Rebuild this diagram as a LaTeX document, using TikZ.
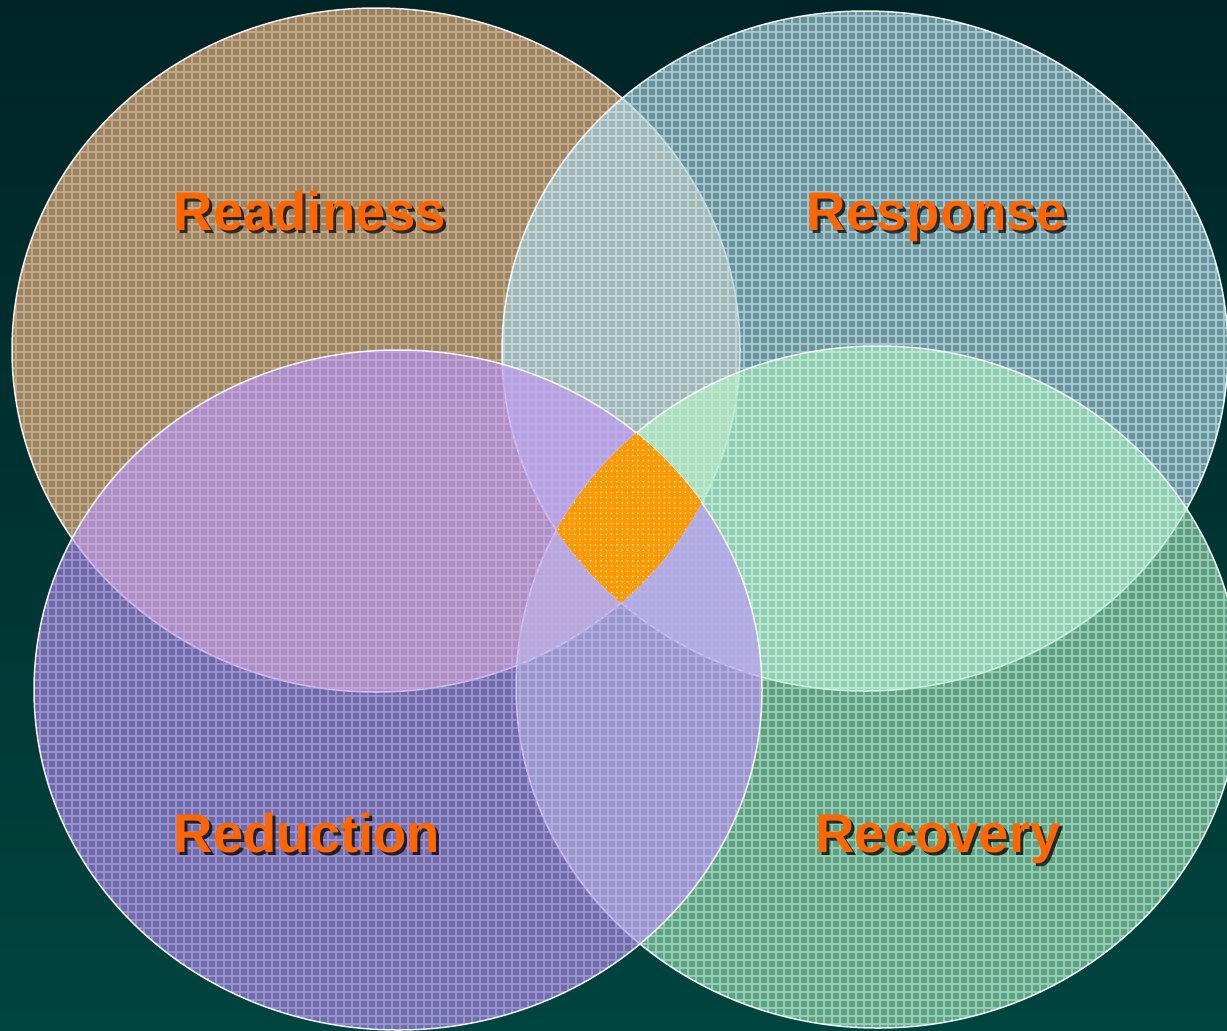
\documentclass[tikz,border=0pt]{standalone}
\usepackage{fontspec}
\setsansfont{Liberation Sans}
\usetikzlibrary{patterns}

\definecolor{bgtop}{HTML}{002426}
\definecolor{bgbot}{HTML}{00443F}
\definecolor{readyfill}{HTML}{C4A482}
\definecolor{readyline}{HTML}{F4BC84}
\definecolor{respfill}{HTML}{B3D6E0}
\definecolor{respline}{HTML}{B8E0EC}
\definecolor{recofill}{HTML}{C2FFD1}
\definecolor{recoline}{HTML}{B0F0C8}
\definecolor{redufill}{HTML}{BC98FF}
\definecolor{reduline}{HTML}{C8A0F0}
\definecolor{lblorange}{HTML}{FF6600}
\definecolor{coreorange}{HTML}{FF9900}

\providecommand{\pReady}{(376,350) ellipse [x radius=364, y radius=342]}
\providecommand{\pResp}{(865,351) ellipse [x radius=363, y radius=340]}
\providecommand{\pReco}{(878,687) ellipse [x radius=362, y radius=341]}
\providecommand{\pRedu}{(398,690) ellipse [x radius=364, y radius=340]}

\tikzset{
  ring/.style={draw=white, draw opacity=0.9, line width=0.3mm},
  gridlines/.style={line width=0.25mm, step=1.6mm},
  lbl/.style={font=\sffamily\bfseries\fontsize{31}{36}\selectfont, text=lblorange, anchor=base, inner sep=0pt},
  lblshadow/.style={lbl, text=black, text opacity=0.75}
}

\begin{document}
\begin{tikzpicture}[x=0.2mm, y=-0.2mm]
    \useasboundingbox (0,0) rectangle (1227,1030);
    \shade[top color=bgtop, bottom color=bgbot] (0,0) rectangle (1227,1030);
    \clip (0,0) rectangle (1227,1030);
    % readiness
    \fill[readyfill, fill opacity=0.75] \pReady;
    \begin{scope}
        \clip \pReady;
        \draw[gridlines, readyline, opacity=0.6] (0,0) grid (1227,1030);
    \end{scope}
    \draw[ring] \pReady;
    % response
    \fill[respfill, fill opacity=0.6] \pResp;
    \begin{scope}
        \clip \pResp;
        \draw[gridlines, respline, opacity=0.7] (0,0) grid (1227,1030);
    \end{scope}
    \draw[ring] \pResp;
    % recovery
    \fill[recofill, fill opacity=0.5] \pReco;
    \begin{scope}
        \clip \pReco;
        \draw[gridlines, recoline, opacity=0.6] (0,0) grid (1227,1030);
    \end{scope}
    \draw[ring] \pReco;
    % reduction
    \fill[redufill, fill opacity=0.55] \pRedu;
    \begin{scope}
        \clip \pRedu;
        \draw[gridlines, reduline, opacity=0.6] (0,0) grid (1227,1030);
    \end{scope}
    \draw[ring] \pRedu;
    % core where all four meet
    \begin{scope}
        \clip \pReady;
        \clip \pResp;
        \clip \pReco;
        \clip \pRedu;
        \fill[coreorange] (0,0) rectangle (1227,1030);
        \fill[pattern=dots, pattern color=white!90!coreorange] (0,0) rectangle (1227,1030);
    \end{scope}
    % labels
    \node[lblshadow] (sReady) at (313,233) {Readiness};
    \node[lbl] (tReady) at (310,230) {Readiness};
    \node[lblshadow] (sResp) at (940,233) {Response};
    \node[lbl] (tResp) at (937,230) {Response};
    \node[lblshadow] (sRedu) at (310,855) {Reduction};
    \node[lbl] (tRedu) at (307,852) {Reduction};
    \node[lblshadow] (sReco) at (941,855) {Recovery};
    \node[lbl] (tReco) at (938,852) {Recovery};
\end{tikzpicture}
\end{document}
